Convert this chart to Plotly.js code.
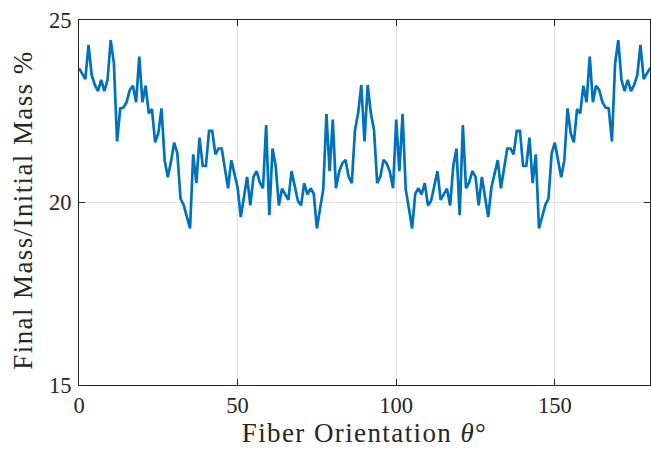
<!DOCTYPE html>
<html>
<head>
<meta charset="utf-8">
<script src="https://cdn.plot.ly/plotly-3.0.1.min.js"></script>
<style>
html,body{margin:0;padding:0;background:#fff;}
#chart{width:651px;height:451px;}
#chart .xtitle, #chart .annotation-text{letter-spacing:1.4px;}
</style>
</head>
<body>
<div id="chart"></div>
<script>
// Fiber orientation angles (degrees), 0..180 in 1-degree steps
const angles = [
  0,1,2,3,4,5,6,7,8,9,10,11,12,13,14,15,16,17,18,19,20,21,22,23,24,25,26,27,28,29,
  30,31,32,33,34,35,36,37,38,39,40,41,42,43,44,45,46,47,48,49,50,51,52,53,54,55,56,57,58,59,
  60,61,62,63,64,65,66,67,68,69,70,71,72,73,74,75,76,77,78,79,80,81,82,83,84,85,86,87,88,89,
  90,91,92,93,94,95,96,97,98,99,100,101,102,103,104,105,106,107,108,109,110,111,112,113,114,115,116,117,118,119,
  120,121,122,123,124,125,126,127,128,129,130,131,132,133,134,135,136,137,138,139,140,141,142,143,144,145,146,147,148,149,
  150,151,152,153,154,155,156,157,158,159,160,161,162,163,164,165,166,167,168,169,170,171,172,173,174,175,176,177,178,179,180
];
// Final mass / initial mass (%)
const massRatio = [
  23.68,23.53,23.38,24.32,23.49,23.22,23.05,23.36,23.05,23.36,24.45,23.81,21.67,22.58,22.60,22.75,23.08,23.20,22.75,24.00,
  22.75,23.20,22.44,22.56,21.65,21.90,22.58,21.16,20.69,21.12,21.64,21.35,20.11,19.93,19.61,19.29,21.32,20.53,21.78,21.00,
  21.00,21.96,21.96,21.32,21.48,21.48,20.93,20.39,21.16,20.80,20.41,19.60,20.15,20.70,19.92,20.70,20.86,20.55,20.39,22.12,
  19.65,21.48,21.00,19.92,20.38,20.22,20.07,20.86,20.45,20.05,19.92,20.53,20.22,20.39,20.24,19.29,19.84,20.36,22.42,20.86,
  22.27,20.39,20.84,21.07,21.17,20.71,20.53,21.98,22.45,23.22,21.67,23.22,22.45,21.98,20.53,20.71,21.17,21.07,20.84,20.39,
  22.27,20.86,22.42,20.36,19.84,19.29,20.24,20.39,20.22,20.53,19.92,20.05,20.45,20.86,20.07,20.22,20.38,19.92,21.00,21.48,
  19.65,22.12,20.39,20.55,20.86,20.70,19.92,20.70,20.15,19.60,20.41,20.80,21.16,20.39,20.93,21.48,21.48,21.32,21.96,21.96,
  21.00,21.00,21.78,20.53,21.32,19.29,19.61,19.93,20.11,21.35,21.64,21.12,20.69,21.16,22.58,21.90,21.65,22.56,22.44,23.20,
  22.75,24.00,22.75,23.20,23.08,22.75,22.60,22.58,21.67,23.81,24.45,23.36,23.05,23.36,23.05,23.22,23.49,24.32,23.38,23.53,23.68
];
const xTicks = [0, 50, 100, 150];
const yTicks = [15, 20, 25];
const xTitle = 'Fiber Orientation <i>θ</i>°';
const yTitle = 'Final Mass/Initial Mass %';

const font = "'Liberation Serif', 'DejaVu Serif', serif";
const axisCol = '#262626';

Plotly.newPlot('chart', [{
  x: angles,
  y: massRatio,
  type: 'scatter',
  mode: 'lines',
  line: {color: '#0072BD', width: 2.7},
  hoverinfo: 'skip'
}], {
  width: 651, height: 451,
  margin: {l: 79, r: 1, t: 20, b: 66},
  paper_bgcolor: '#ffffff',
  plot_bgcolor: '#ffffff',
  showlegend: false,
  font: {family: font, color: axisCol, size: 22},
  xaxis: {
    range: [0, 180],
    tickvals: xTicks,
    ticktext: xTicks.map(String),
    ticks: 'inside', ticklen: 6, tickwidth: 1, tickcolor: axisCol,
    showline: true, linecolor: axisCol, linewidth: 1, mirror: 'ticks',
    showgrid: true, gridcolor: '#e3e3e3', gridwidth: 1,
    zeroline: false,
    tickfont: {family: font, size: 22.5, color: axisCol},
    title: {text: xTitle, font: {family: font, size: 27, color: axisCol}, standoff: 6}
  },
  yaxis: {
    range: [15, 25],
    tickvals: yTicks,
    ticktext: yTicks.map(String),
    ticks: 'inside', ticklen: 6, tickwidth: 1, tickcolor: axisCol,
    showline: true, linecolor: axisCol, linewidth: 1, mirror: 'ticks',
    showgrid: true, gridcolor: '#e3e3e3', gridwidth: 1,
    zeroline: false,
    ticklabelstandoff: 2,
    tickfont: {family: font, size: 22.5, color: axisCol}
  },
  annotations: [{
    text: yTitle,
    xref: 'paper', yref: 'paper',
    x: 0, y: 0.479,
    xanchor: 'center', yanchor: 'middle',
    xshift: -56,
    textangle: -90,
    showarrow: false,
    font: {family: font, size: 27, color: axisCol}
  }]
}, {displayModeBar: false, staticPlot: true});
</script>
</body>
</html>
